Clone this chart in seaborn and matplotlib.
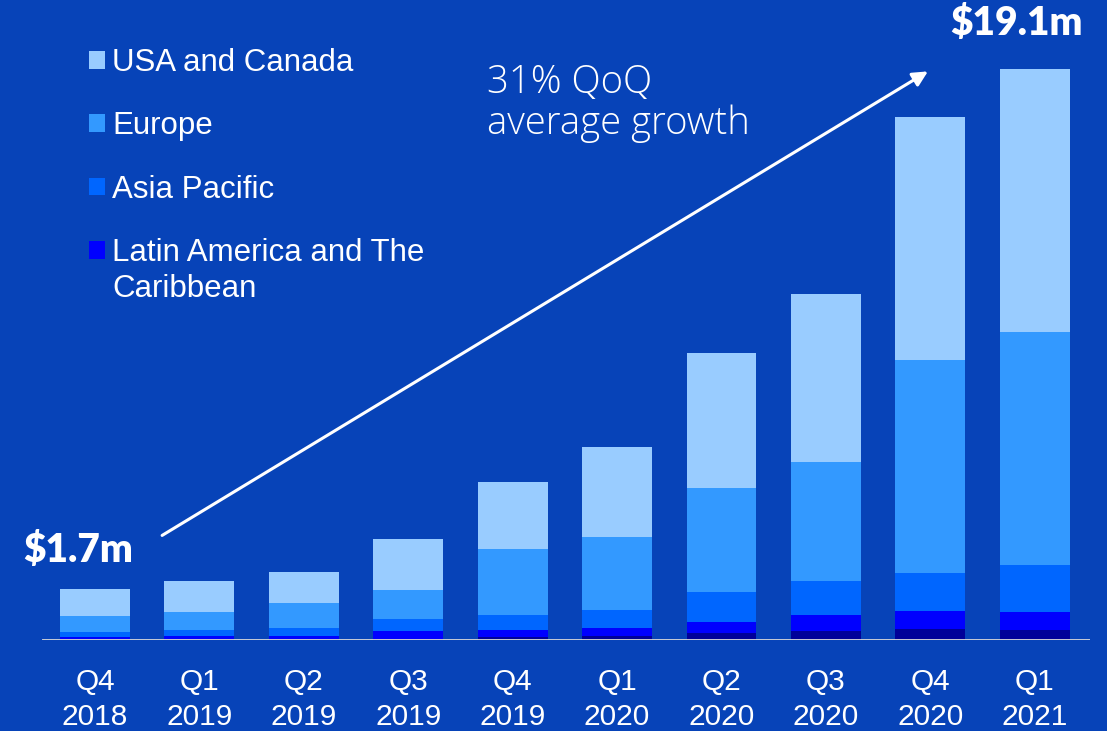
import numpy as np
import pandas as pd
import matplotlib.pyplot as plt
import seaborn as sns
from matplotlib.patches import Patch

# Revenue by region, $m
quarters = ["Q4\n2018", "Q1\n2019", "Q2\n2019", "Q3\n2019", "Q4\n2019",
            "Q1\n2020", "Q2\n2020", "Q3\n2020", "Q4\n2020", "Q1\n2021"]
other = [0.04, 0.04, 0.03, 0.03, 0.11, 0.13, 0.23, 0.30, 0.37, 0.33]
latam = [0.07, 0.09, 0.12, 0.27, 0.22, 0.27, 0.37, 0.53, 0.60, 0.61]
apac = [0.17, 0.20, 0.24, 0.41, 0.49, 0.61, 1.00, 1.14, 1.27, 1.56]
europe = [0.52, 0.60, 0.84, 0.97, 2.24, 2.43, 3.48, 3.99, 7.12, 7.79]
usa = [0.90, 1.04, 1.04, 1.71, 2.21, 3.01, 4.52, 5.62, 8.13, 8.80]

series = ["Other", "Latin America and The", "Asia Pacific", "Europe", "USA and Canada"]
colors = ["#000099", "#0000FF", "#0066FF", "#3399FF", "#99CCFF"]
bg = "#0743B8"

df = pd.DataFrame({"quarter": quarters, series[0]: other, series[1]: latam,
                   series[2]: apac, series[3]: europe, series[4]: usa})
cum = df[series].cumsum(axis=1)

sns.set_style("white")
plt.rcParams["font.family"] = ["Liberation Sans", "DejaVu Sans"]

fig = plt.figure(figsize=(11.07, 7.31), dpi=100, facecolor=bg)
ax = fig.add_axes([0.0379, 0.1245, 0.9468, 0.8755])
ax.set_facecolor(bg)

# stacked bars: draw cumulative totals from the top layer down
for name, col in zip(series[::-1], colors[::-1]):
    sns.barplot(x=df["quarter"], y=cum[name], color=col, width=0.67,
                saturation=1, linewidth=0, ax=ax, order=quarters)

ax.set_xlim(-0.508, 9.53)
ax.set_ylim(0, 21.41)
ax.axhline(0, color="#D9D9D9", lw=2, zorder=5)
sns.despine(ax=ax, left=True, bottom=True)
ax.set_yticks([])
ax.set_xlabel("")
ax.set_ylabel("")
ax.tick_params(axis="x", length=0, pad=20, labelsize=21.5, labelcolor="white")
for t in ax.get_xticklabels():
    t.set_linespacing(1.32)

# legend (bottom "Other" layer is not listed)
handles = [Patch(facecolor=c, edgecolor="none") for c in colors[1:][::-1]]
labels = series[1:][::-1]
leg = ax.legend(handles, labels, loc="upper left", bbox_to_anchor=(0.033, 0.945),
                frameon=False, fontsize=22.5, handlelength=0.5, handleheight=0.5,
                handletextpad=0.25, labelspacing=1.07, borderaxespad=0)
for t in leg.get_texts():
    t.set_color("white")

# second line of the last legend entry
fig.canvas.draw()
ext = leg.get_texts()[-1].get_window_extent()
fig.text(ext.x0, ext.y0 - 36, "Caribbean", color="white", fontsize=22.5,
         transform=None, ha="left", va="bottom")

# growth arrow and annotations
ax.annotate("", xy=(8.0, 19.07), xytext=(0.62, 3.45),
            arrowprops=dict(arrowstyle="-|>,head_length=0.9,head_width=0.45",
                            color="white", lw=2.2))
ax.text(3.75, (640 - 93) * 0.03345, "31% QoQ", color="white", fontsize=27.5,
        family=["Open Sans", "DejaVu Sans"], fontweight="light", va="baseline", ha="left")
ax.text(3.75, (640 - 134) * 0.03345, "average growth", color="white", fontsize=27.5,
        family=["Open Sans", "DejaVu Sans"], fontweight="light", va="baseline", ha="left")
ax.text(-0.16, 3.0, "$1.7m", color="white", fontsize=28, family=["Lato", "DejaVu Sans"],
        fontweight="heavy", ha="center", va="center")
ax.text(8.83, 20.64, "$19.1m", color="white", fontsize=28, family=["Lato", "DejaVu Sans"],
        fontweight="heavy", ha="center", va="center")

fig.savefig("out.png", dpi=100, facecolor=bg)
